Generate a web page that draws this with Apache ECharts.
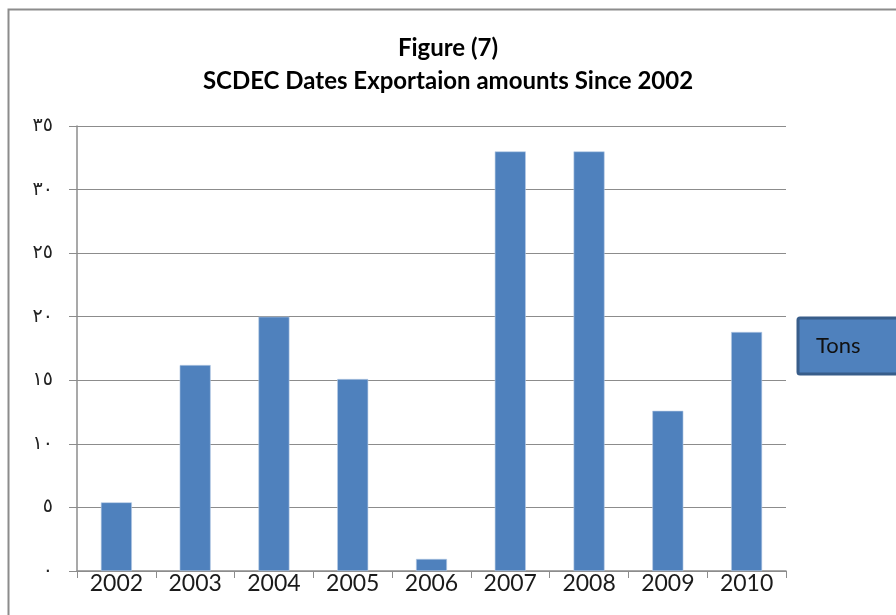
<!DOCTYPE html>
<html>
<head>
<meta charset="utf-8">
<script src="https://cdn.jsdelivr.net/npm/echarts@6/dist/echarts.min.js"></script>
<style>
  html, body { margin: 0; padding: 0; background: #fff; }
  #chart { width: 896px; height: 615px; }
</style>
</head>
<body>
<div id="chart"></div>
<script>
const years = ["2002", "2003", "2004", "2005", "2006", "2007", "2008", "2009", "2010"];
const tons = [5.4, 16.2, 20, 15.1, 0.95, 33, 33, 12.6, 18.8];
const titleLines = ["Figure (7)", "SCDEC Dates Exportaion amounts Since 2002"];

const arabicDigits = ["٠", "١", "٢", "٣", "٤", "٥", "٦", "٧", "٨", "٩"];
const toArabic = (v) => String(v).replace(/[0-9]/g, (d) => arabicDigits[+d]);

const chart = echarts.init(document.getElementById("chart"));
chart.setOption({
  animation: false,
  title: {
    text: titleLines.join("\n"),
    left: "center",
    top: 27,
    textStyle: {
      fontFamily: "Lato",
      fontWeight: "bold",
      fontSize: 24,
      lineHeight: 33,
      color: "#000",
    },
  },
  graphic: [
    {
      type: "rect",
      shape: { x: 8.5, y: 9.5, width: 1000, height: 800 },
      style: { fill: "none", stroke: "#8c8c8c", lineWidth: 2 },
      silent: true,
    },
  ],
  legend: {
    data: ["Tons"],
    left: 798,
    top: 318,
    itemWidth: 0,
    itemHeight: 0,
    padding: [17, 60, 17, 12],
    backgroundColor: "#4f81bd",
    borderColor: "#385d8a",
    borderWidth: 3,
    borderRadius: 2,
    textStyle: { fontFamily: "Lato", fontSize: 22, color: "#111" },
  },
  grid: { left: 77, right: 110, top: 126, bottom: 44 },
  xAxis: {
    type: "category",
    data: years,
    axisLine: { lineStyle: { color: "#8c8c8c", width: 1.5 } },
    axisTick: { show: true, length: 7, lineStyle: { color: "#8c8c8c" } },
    axisLabel: {
      fontFamily: "Lato",
      fontSize: 23,
      color: "#1a1a1a",
      margin: 1,
    },
  },
  yAxis: {
    type: "value",
    min: 0,
    max: 35,
    interval: 5,
    axisLine: { show: true, lineStyle: { color: "#8c8c8c", width: 1.5 } },
    axisTick: { show: true, length: 8, lineStyle: { color: "#8c8c8c" } },
    splitLine: { lineStyle: { color: "#8c8c8c", width: 1.2 } },
    axisLabel: {
      fontFamily: "DejaVu Sans",
      fontSize: 19,
      color: "#222",
      margin: 24,
      formatter: (v) => toArabic(v),
    },
  },
  series: [
    {
      name: "Tons",
      type: "bar",
      data: tons,
      barWidth: 31,
      itemStyle: { color: "#4f81bd", borderColor: "#b9cde5", borderWidth: 0.6 },
    },
  ],
});
</script>
</body>
</html>
